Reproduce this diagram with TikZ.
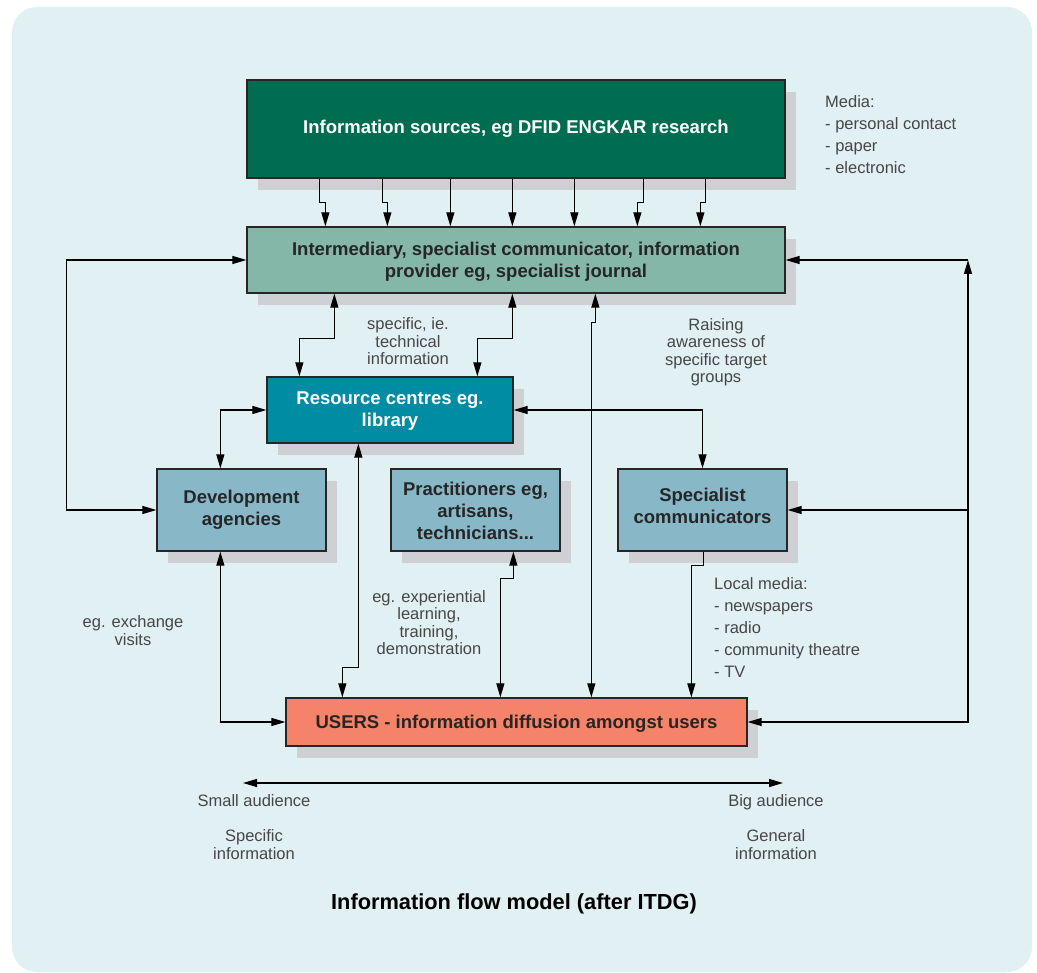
\documentclass[tikz,border=0pt]{standalone}
\usepackage{fontspec}
\setmainfont{Liberation Sans}
\usetikzlibrary{arrows.meta,shadows}
\definecolor{bgc}{HTML}{E1F0F3}
\definecolor{srcc}{HTML}{006D50}
\definecolor{intc}{HTML}{84B7A8}
\definecolor{resc}{HTML}{008CA3}
\definecolor{midc}{HTML}{88B8C8}
\definecolor{usrc}{HTML}{F4836A}
\definecolor{shc}{HTML}{CFD0D3}
\definecolor{txc}{HTML}{464646}
\definecolor{edgec}{HTML}{262626}
\begin{document}
\begin{tikzpicture}[x=1pt,y=-1pt,
  box/.style={draw=edgec,line width=1.3pt,inner sep=0pt,align=center,
     font=\fontsize{18.5}{22}\selectfont\bfseries,text=edgec,
     drop shadow={shadow xshift=11pt,shadow yshift=-12pt,fill=shc,opacity=1}},
  lbl/.style={align=center,text=txc,font=\fontsize{16.5}{17.5}\selectfont,inner sep=0pt},
  lst/.style={align=left,text=txc,font=\fontsize{16.5}{22}\selectfont,inner sep=0pt,anchor=west},
  conn/.style={line width=1.2pt,draw=black},
  arr/.style={conn,-{Triangle[length=14pt,width=8pt]}},
  dbl/.style={conn,{Triangle[length=14pt,width=8pt]}-{Triangle[length=14pt,width=8pt]}},
]
\useasboundingbox (0,0) rectangle (1037,973);
\fill[bgc,rounded corners=25pt] (12,7) rectangle (1032,972);

% boxes
\node[box,fill=srcc,text=white,minimum width=538pt,minimum height=98pt] (src) at (516,129) {Information sources, eg DFID ENGKAR research};
\node[box,fill=intc,minimum width=538pt,minimum height=66pt] (int) at (516,260) {\rule{0pt}{16pt}Intermediary, specialist communicator, information\\provider eg, specialist journal};
\node[box,fill=resc,text=white,minimum width=246pt,minimum height=66pt] (res) at (390,410) {\rule{0pt}{17pt}Resource centres eg.\\library\rule[-5pt]{0pt}{5pt}};
\node[box,fill=midc,minimum width=169pt,minimum height=82pt] (dev) at (241.5,510) {Development\\agencies};
\node[box,fill=midc,minimum width=169pt,minimum height=82pt] (pra) at (475.5,510) {\rule{0pt}{16pt}Practitioners eg,\\artisans,\\technicians...};
\node[box,fill=midc,minimum width=169pt,minimum height=82pt] (spe) at (702.5,510) {Specialist\\communicators\rule[-8pt]{0pt}{8pt}};
\node[box,fill=usrc,minimum width=461pt,minimum height=48pt] (usr) at (516.5,722) {\rule{0pt}{17pt}USERS - information diffusion amongst users};

% sources -> intermediary
\draw[arr] ([xshift=73pt]src.south west) -- ++(0,24) -| ([xshift=79pt]int.north west);
\draw[arr] ([xshift=136pt]src.south west) -- ++(0,24) -| ([xshift=141pt]int.north west);
\draw[arr] ([xshift=204pt]src.south west) -- ([xshift=204pt]int.north west);
\draw[arr] ([xshift=266pt]src.south west) -- ([xshift=266pt]int.north west);
\draw[arr] ([xshift=328pt]src.south west) -- ([xshift=328pt]int.north west);
\draw[arr] ([xshift=397pt]src.south west) -- ++(0,24) -| ([xshift=391pt]int.north west);
\draw[arr] ([xshift=459pt]src.south west) -- ++(0,24) -| ([xshift=454pt]int.north west);

% left loop
\draw[dbl] (int.west) -- ++(-180,0) |- (dev.west);
% resource <-> development
\draw[dbl] (res.west) -| ([xshift=64pt]dev.north west);
% intermediary <-> resource
\draw[dbl] ([xshift=88pt]int.south west) -- ++(0,45) -| ([xshift=33pt]res.north west);
\draw[dbl] ([xshift=266pt]int.south west) -- ++(0,45) -| ([xshift=211pt]res.north west);
% intermediary <-> users
\draw[dbl] ([xshift=349pt]int.south west) -- ++(0,29) -| ([xshift=306pt]usr.north west);
% resource <-> specialist
\draw[dbl] (res.east) -| (spe.north);
% right loop
\coordinate (rt) at (968,260);
\coordinate (rb) at (968,722);
\draw[dbl] (usr.east) -- (rb) -- (rt);
\draw[arr] (rt) -- (int.east);
\draw[arr] (spe.east -| rt) -- (spe.east);
% development <-> users
\draw[dbl] ([xshift=64pt]dev.south west) |- (usr.west);
% resource <-> users
\draw[dbl] ([xshift=92pt]res.south west) -- ++(0,224) -| ([xshift=57pt]usr.north west);
% practitioners <-> users
\draw[dbl] ([xshift=123pt]pra.south west) -- ++(0,27) -| ([xshift=215pt]usr.north west);
% specialist -> users
\draw[arr] ([xshift=86pt]spe.south west) -- ++(0,14) -| ([xshift=406pt]usr.north west);

% labels
\node[lst] (media) at (825,135) {Media:\\- personal contact\\- paper\\- electronic};
\node[lst] (local) at (714,627.5) {Local media:\\- newspapers\\- radio\\- community theatre\\- TV};
\node[lbl] (spec) at (408,341.5) {specific, ie.\\technical\\information};
\node[lbl] (raise) at (716,352) {Raising\\awareness of\\specific target\\groups};
\node[lbl] (exch) at (133,630.5) {eg. exchange\\visits};
\node[lbl] (expe) at (429,622.5) {eg. experiential\\learning,\\training,\\demonstration};

% audience scale
\coordinate (aL) at (243,783);
\coordinate (aR) at (783,783);
\draw[dbl] (aL) -- (aR);
\node[lbl,anchor=base] (small) at (254,806) {Small audience};
\node[lbl,anchor=base] (big) at (776,806) {Big audience};
\node[lbl,font=\fontsize{16.5}{18}\selectfont] (specinf) at (254,845) {Specific\\information};
\node[lbl,font=\fontsize{16.5}{18}\selectfont] (geninf) at (776,845) {General\\information};

\node[anchor=base,inner sep=0pt,font=\fontsize{21.8}{24}\selectfont\bfseries,text=black] (title) at (514,909.5) {Information flow model (after ITDG)};
\end{tikzpicture}
\end{document}
